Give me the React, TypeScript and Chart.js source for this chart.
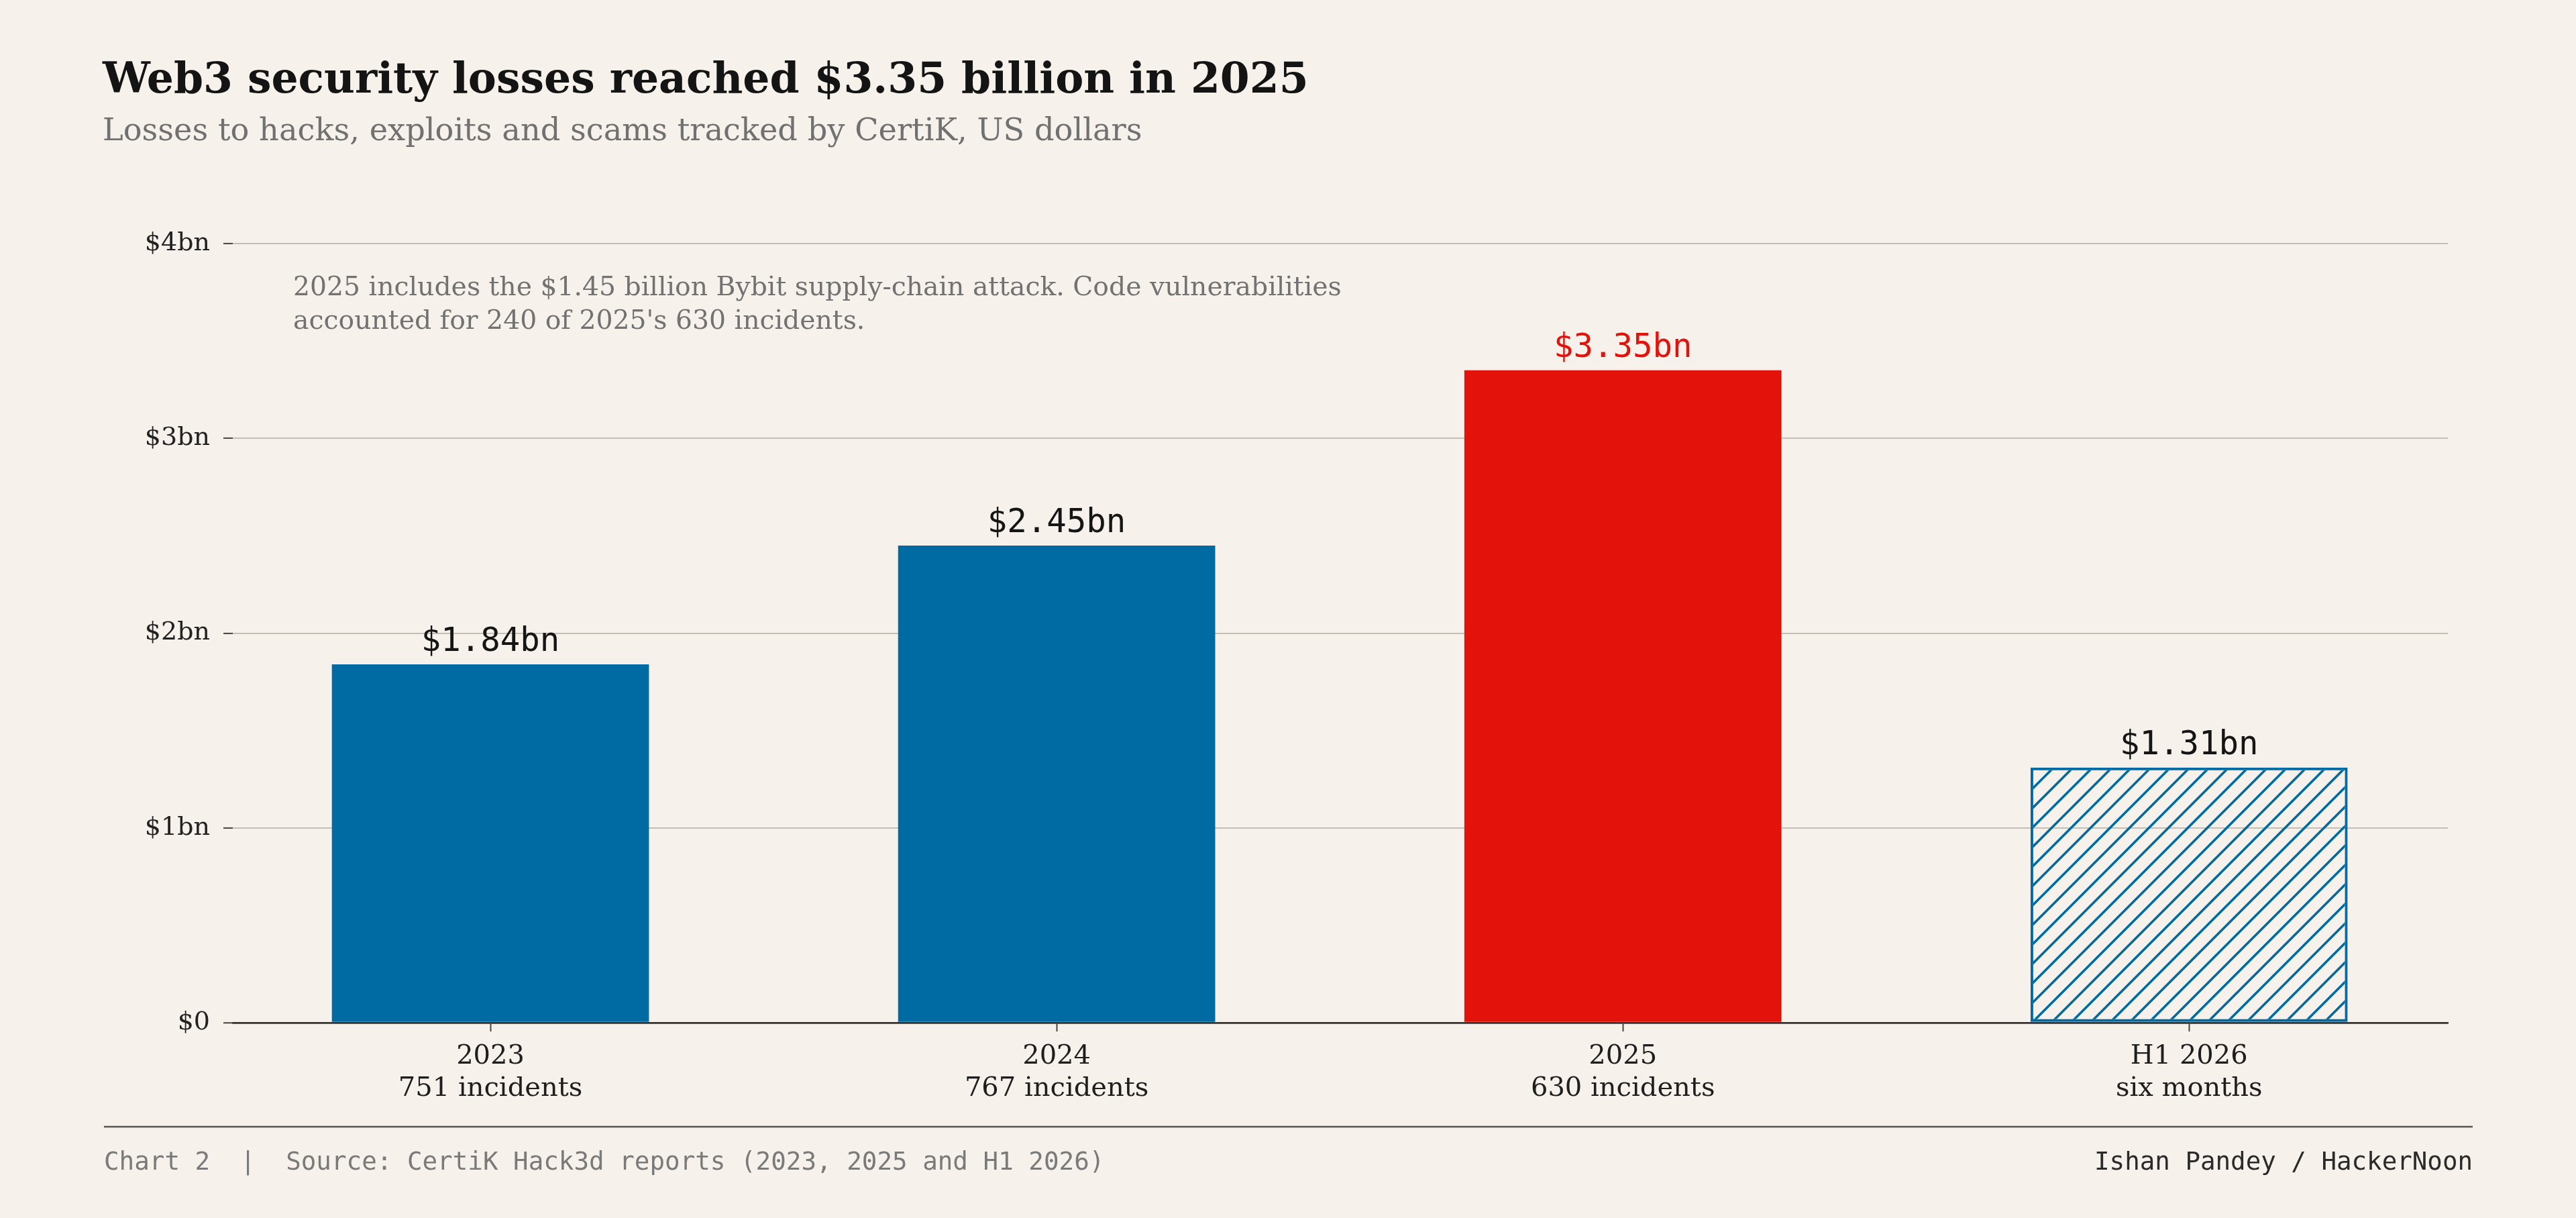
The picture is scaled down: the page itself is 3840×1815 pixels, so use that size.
import React, { useEffect, useRef } from "react";
import { Chart, registerables } from "chart.js";

Chart.register(...registerables);

// ---------- data ----------
const years = ["2023", "2024", "2025", "H1 2026"];
const incidentLabels = ["751 incidents", "767 incidents", "630 incidents", "six months"];
const lossesBn = [1.84, 2.45, 3.35, 1.31];
const valueLabels = ["$1.84bn", "$2.45bn", "$3.35bn", "$1.31bn"];
const yTickLabels = ["$0", "$1bn", "$2bn", "$3bn", "$4bn"];

const TITLE = "Web3 security losses reached $3.35 billion in 2025";
const SUBTITLE = "Losses to hacks, exploits and scams tracked by CertiK, US dollars";
const NOTE_LINES = [
  "2025 includes the $1.45 billion Bybit supply-chain attack. Code vulnerabilities",
  "accounted for 240 of 2025's 630 incidents.",
];
const SOURCE = "Chart 2  |  Source: CertiK Hack3d reports (2023, 2025 and H1 2026)";
const CREDIT = "Ishan Pandey / HackerNoon";

// ---------- style ----------
const BG = "#f6f1eb";
const BLUE = "#006ba2";
const RED = "#e3120b";
const SERIF = "'DejaVu Serif', serif";
const MONO = "'DejaVu Sans Mono', monospace";

function fitSize(ctx: CanvasRenderingContext2D, text: string, weight: string, family: string, target: number) {
  ctx.font = `${weight} 100px ${family}`;
  const w = ctx.measureText(text).width;
  return (100 * target) / w;
}

function makeHatch(color: string): CanvasPattern | string {
  const s = 29;
  const c = document.createElement("canvas");
  c.width = s;
  c.height = s;
  const g = c.getContext("2d");
  if (!g) return color;
  g.strokeStyle = color;
  g.lineWidth = 3.6;
  g.beginPath();
  g.moveTo(0, s);
  g.lineTo(s, 0);
  g.moveTo(-s / 2, s / 2);
  g.lineTo(s / 2, -s / 2);
  g.moveTo(s / 2, s * 1.5);
  g.lineTo(s * 1.5, s / 2);
  g.stroke();
  const p = g.createPattern(c, "repeat");
  return p || color;
}

const decorPlugin = {
  id: "decor",
  afterDatasetsDraw(chart: any) {
    const ctx: CanvasRenderingContext2D = chart.ctx;
    const meta = chart.getDatasetMeta(0);
    ctx.save();
    ctx.textAlign = "center";
    ctx.textBaseline = "alphabetic";
    ctx.font = `49px ${MONO}`;
    meta.data.forEach((bar: any, i: number) => {
      ctx.fillStyle = i === 2 ? RED : "#151515";
      ctx.fillText(valueLabels[i], bar.x, bar.y - 20);
    });
    ctx.restore();
  },
  afterDraw(chart: any) {
    const ctx: CanvasRenderingContext2D = chart.ctx;
    ctx.save();
    ctx.textAlign = "left";
    ctx.textBaseline = "alphabetic";

    // title
    const ts = fitSize(ctx, TITLE, "bold", SERIF, 1798);
    ctx.font = `bold ${ts}px ${SERIF}`;
    ctx.fillStyle = "#141414";
    ctx.fillText(TITLE, 153, 138);

    // subtitle
    const ss = fitSize(ctx, SUBTITLE, "normal", SERIF, 1550);
    ctx.font = `normal ${ss}px ${SERIF}`;
    ctx.fillStyle = "#717171";
    ctx.fillText(SUBTITLE, 153, 209);

    // annotation
    const ns = fitSize(ctx, NOTE_LINES[0], "normal", SERIF, 1563);
    ctx.font = `normal ${ns}px ${SERIF}`;
    ctx.fillStyle = "#727272";
    NOTE_LINES.forEach((line, i) => ctx.fillText(line, 437, 440 + i * 50));

    // footer rule
    ctx.strokeStyle = "#555555";
    ctx.lineWidth = 2.5;
    ctx.beginPath();
    ctx.moveTo(155, 1679);
    ctx.lineTo(3686, 1679);
    ctx.stroke();

    // footer texts
    const fs = fitSize(ctx, SOURCE, "normal", MONO, 1492);
    ctx.font = `normal ${fs}px ${MONO}`;
    ctx.fillStyle = "#7a7a7a";
    ctx.fillText(SOURCE, 155, 1743);

    const cs = fitSize(ctx, CREDIT, "normal", MONO, 564);
    ctx.font = `normal ${cs}px ${MONO}`;
    ctx.fillStyle = "#2a2a2a";
    ctx.textAlign = "right";
    ctx.fillText(CREDIT, 3686, 1743);
    ctx.restore();
  },
};

export default function App() {
  const canvasRef = useRef<HTMLCanvasElement | null>(null);

  useEffect(() => {
    document.body.style.margin = "0";
    document.body.style.background = BG;
    const canvas = canvasRef.current;
    if (!canvas) return;
    const hatch = makeHatch(BLUE);

    const chart = new Chart(canvas, {
      type: "bar",
      data: {
        datasets: [
          {
            data: lossesBn.map((v, i) => ({ x: i, y: v })),
            backgroundColor: [BLUE, BLUE, RED, hatch],
            borderColor: [BLUE, BLUE, RED, BLUE],
            borderWidth: [0, 0, 0, 4],
            borderSkipped: false,
            categoryPercentage: 1,
            barPercentage: 0.56,
          } as any,
        ],
      },
      options: {
        animation: false,
        responsive: true,
        maintainAspectRatio: false,
        events: [],
        layout: { padding: { left: 0, right: 191, top: 363, bottom: 161 } },
        plugins: {
          legend: { display: false },
          tooltip: { enabled: false },
          title: { display: false },
        },
        scales: {
          x: {
            type: "linear",
            offset: false,
            min: -0.455,
            max: 3.457,
            z: 1,
            afterBuildTicks: (scale: any) => {
              scale.ticks = years.map((_, i) => ({ value: i }));
            },
            afterFit: (scale: any) => {
              scale.height = 130;
            },
            grid: {
              display: true,
              offset: false,
              drawOnChartArea: false,
              drawTicks: true,
              tickLength: 13,
              tickColor: "#444444",
              tickWidth: 2,
            },
            border: { display: true, color: "#333333", width: 2.5 },
            ticks: {
              autoSkip: false,
              maxRotation: 0,
              padding: 14,
              color: "#1e1e1e",
              font: { family: SERIF, size: 40, lineHeight: 1.2 },
              callback: (value: any) => {
                const i = Math.round(Number(value));
                return [years[i], incidentLabels[i]];
              },
            },
          },
          y: {
            type: "linear",
            min: 0,
            max: 4,
            afterFit: (scale: any) => {
              scale.width = 347;
            },
            border: { display: false },
            grid: {
              color: (c: any) => (c.tick && c.tick.value === 0 ? "#333333" : "#bdb8ad"),
              lineWidth: (c: any) => (c.tick && c.tick.value === 0 ? 2.5 : 1.8),
              tickLength: 14,
              tickColor: "#444444",
              tickWidth: 2,
            },
            ticks: {
              stepSize: 1,
              padding: 20,
              color: "#222222",
              font: { family: SERIF, size: 38 },
              callback: (value: any) => yTickLabels[Math.round(Number(value))],
            },
          },
        },
      } as any,
      plugins: [decorPlugin as any],
    });

    return () => chart.destroy();
  }, []);

  return (
    <div
      style={{
        position: "fixed",
        left: 0,
        top: 0,
        width: "100vw",
        height: "100vh",
        background: BG,
        overflow: "hidden",
      }}
    >
      <canvas ref={canvasRef} />
    </div>
  );
}
